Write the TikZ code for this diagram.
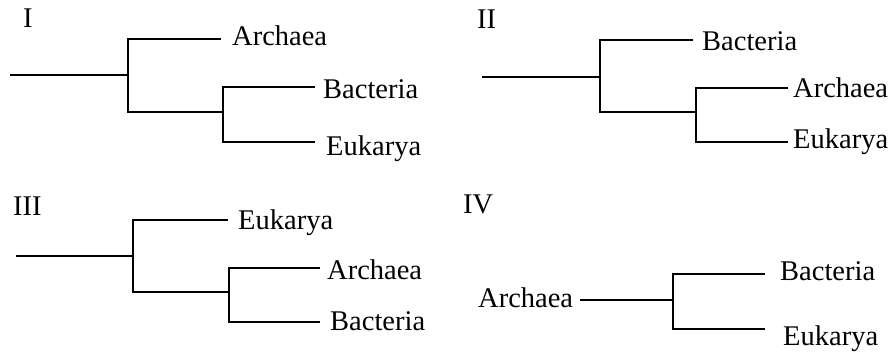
\documentclass[tikz,border=0pt]{standalone}
\usepackage{fontspec}
\setmainfont{Liberation Serif}
\begin{document}
\begin{tikzpicture}[x=1pt,y=-1pt,
  br/.style={line width=1.8pt, line join=miter},
  lbl/.style={anchor=base west, inner sep=0pt, font=\fontsize{28.5}{32}\selectfont}]
\useasboundingbox (0,0) rectangle (893,354);
% ---------- Panel I ----------
\node[lbl] (nI) at (23,27) {I};
\coordinate (I0) at (10,75);
\coordinate (Ij) at (128,75);
\coordinate (Iat) at (221,39);
\coordinate (Ilo) at (223,112);
\coordinate (Ibt) at (315,87);
\coordinate (Iet) at (315,142);
\node[lbl] (IA) at (232,45) {Archaea};
\node[lbl] (IB) at (323,98) {Bacteria};
\node[lbl] (IE) at (326,155) {Eukarya};
\draw[br] (I0) -- (Ij);
\draw[br] (Iat) -- (Iat -| Ij) -- (Ilo -| Ij) -- (Ilo);
\draw[br] (Ibt) -- (Ibt -| Ilo) -- (Iet -| Ilo) -- (Iet);
% ---------- Panel II ----------
\node[lbl] (nII) at (477,28) {II};
\coordinate (II0) at (482,77);
\coordinate (IIj) at (600,77);
\coordinate (IIbt) at (693,40);
\coordinate (IIlo) at (696,112);
\coordinate (IIat) at (788,88);
\coordinate (IIet) at (788,142);
\node[lbl] (IIB) at (702,50) {Bacteria};
\node[lbl] (IIA) at (793,97) {Archaea};
\node[lbl] (IIE) at (793,148) {Eukarya};
\draw[br] (II0) -- (IIj);
\draw[br] (IIbt) -- (IIbt -| IIj) -- (IIlo -| IIj) -- (IIlo);
\draw[br] (IIat) -- (IIat -| IIlo) -- (IIet -| IIlo) -- (IIet);
% ---------- Panel III ----------
\node[lbl] (nIII) at (13,215) {III};
\coordinate (III0) at (16,256);
\coordinate (IIIj) at (133,256);
\coordinate (IIIet) at (228,220);
\coordinate (IIIlo) at (229,292);
\coordinate (IIIat) at (320,268);
\coordinate (IIIbt) at (320,322);
\node[lbl] (IIIE) at (238,229) {Eukarya};
\node[lbl] (IIIA) at (327,279) {Archaea};
\node[lbl] (IIIB) at (330,330) {Bacteria};
\draw[br] (III0) -- (IIIj);
\draw[br] (IIIet) -- (IIIet -| IIIj) -- (IIIlo -| IIIj) -- (IIIlo);
\draw[br] (IIIat) -- (IIIat -| IIIlo) -- (IIIbt -| IIIlo) -- (IIIbt);
% ---------- Panel IV ----------
\node[lbl] (nIV) at (463,213) {IV};
\node[lbl] (IVA) at (478,307) {Archaea};
\coordinate (IV0) at (580,300);
\coordinate (IVj) at (673,300);
\coordinate (IVbt) at (765,274);
\coordinate (IVet) at (765,329);
\node[lbl] (IVB) at (780,280) {Bacteria};
\node[lbl] (IVE) at (783,345) {Eukarya};
\draw[br] (IV0) -- (IVj);
\draw[br] (IVbt) -- (IVbt -| IVj) -- (IVet -| IVj) -- (IVet);
\end{tikzpicture}
\end{document}
